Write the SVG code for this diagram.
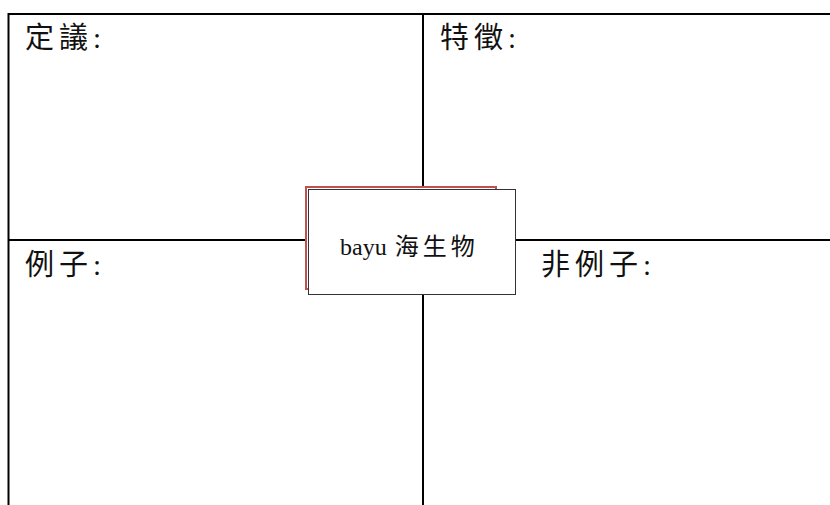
<svg xmlns="http://www.w3.org/2000/svg" width="830" height="505" viewBox="0 0 830 505">
<style>
.ln{stroke:#000;stroke-width:2;fill:none}
.lbl{font-family:"Liberation Serif","Noto Sans CJK TC",serif;font-size:29px;letter-spacing:5px;fill:#111}
.ctr{font-family:"Liberation Serif","Noto Sans CJK TC",serif;font-size:24px;fill:#111}
</style>
<rect width="830" height="505" fill="#fff"/>
<g id="connectors">
<line class="ln" x1="8" y1="14" x2="830" y2="14"/>
<line class="ln" x1="8.5" y1="13" x2="8.5" y2="505"/>
<line class="ln" x1="423" y1="14" x2="423" y2="505"/>
<line class="ln" x1="8" y1="240" x2="830" y2="240"/>
</g>
<g id="q-definition"><text class="lbl" x="25" y="48">定議:</text></g>
<g id="q-features"><text class="lbl" x="440" y="48">特徵:</text></g>
<g id="q-examples"><text class="lbl" x="25" y="275">例子:</text></g>
<g id="q-nonexamples"><text class="lbl" x="541" y="275">非例子:</text></g>
<g id="center">
<rect x="306" y="187" width="190" height="102" fill="#fff" stroke="#c0504d" stroke-width="2"/>
<rect x="308.5" y="189.5" width="207" height="105" fill="#fff" stroke="#333" stroke-width="1"/>
<text class="ctr" x="340" y="255">bayu <tspan dx="2" letter-spacing="4">海生物</tspan></text>
</g>
</svg>
